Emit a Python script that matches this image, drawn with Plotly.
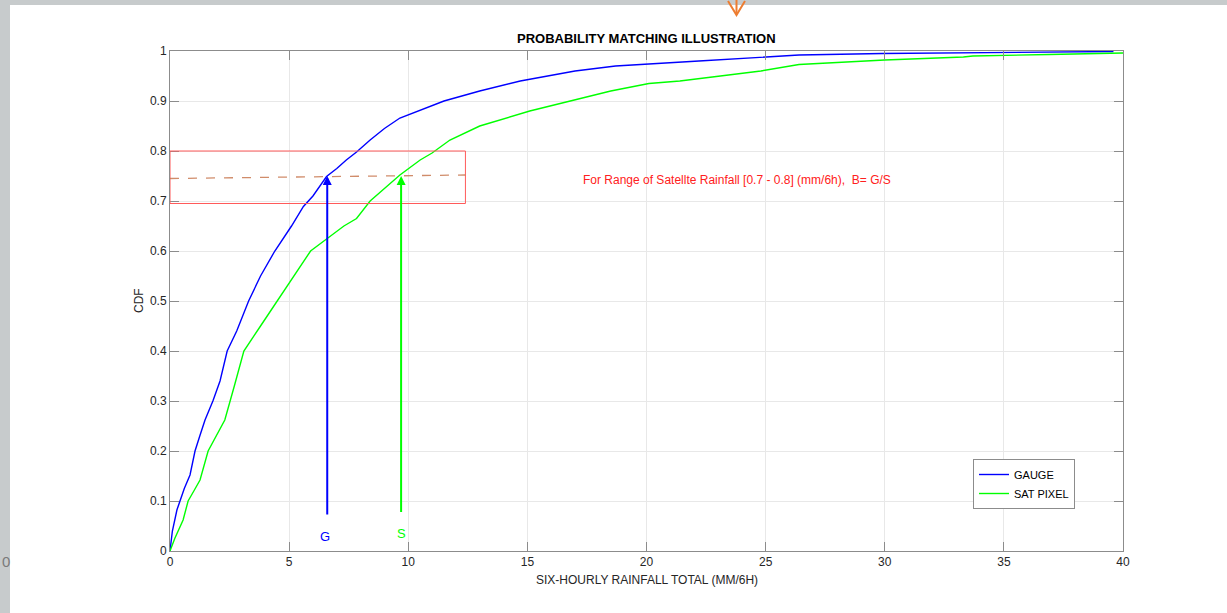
import plotly.graph_objects as go

# ---- data ----
gauge_x = [0, 0.1, 0.29, 0.42, 0.6, 0.84, 1.05, 1.25, 1.47, 1.8, 2.1, 2.4, 2.8, 3.3, 3.8, 4.4, 5.1, 5.6,
           6.0, 6.57, 7.0, 7.4, 7.83, 8.4, 9.0, 9.65, 10.5, 11.5, 13.0, 14.7, 17.0, 18.7, 22.2, 26.4,
           29.9, 34.8, 39.6]
gauge_y = [0, 0.04, 0.082, 0.1, 0.125, 0.152, 0.2, 0.23, 0.262, 0.3, 0.34, 0.4, 0.44, 0.5, 0.55, 0.6, 0.65, 0.689,
           0.71, 0.749, 0.765, 0.782, 0.798, 0.822, 0.845, 0.866, 0.882, 0.9, 0.92, 0.94, 0.96, 0.97, 0.98, 0.992,
           0.995, 0.997, 0.999]

sat_x = [0, 0.2, 0.55, 0.76, 1.0, 1.26, 1.6, 2.0, 2.3, 2.7, 3.1, 3.8, 4.5, 5.2, 5.9, 6.6, 7.3, 7.83, 8.4, 9.0,
         9.65, 10.5, 11.0, 11.75, 13.0, 15.1, 16.8, 18.5, 20.1, 21.4, 23.1, 24.8, 26.4, 28.0, 30.0, 33.3,
         33.7, 36.9, 40.0]
sat_y = [0, 0.025, 0.062, 0.1, 0.12, 0.142, 0.2, 0.235, 0.262, 0.33, 0.4, 0.45, 0.5, 0.55, 0.6, 0.625, 0.65,
         0.665, 0.7, 0.725, 0.752, 0.782, 0.796, 0.822, 0.85, 0.88, 0.9, 0.92, 0.935, 0.94, 0.95, 0.96, 0.973,
         0.977, 0.982, 0.988, 0.99, 0.993, 0.996]

x_ticks = [0, 5, 10, 15, 20, 25, 30, 35, 40]
y_ticks = [0, 0.1, 0.2, 0.3, 0.4, 0.5, 0.6, 0.7, 0.8, 0.9, 1]
y_tick_labels = ["0", "0.1", "0.2", "0.3", "0.4", "0.5", "0.6", "0.7", "0.8", "0.9", "1"]

g_value, s_value = 6.6, 9.7          # matched quantiles
cdf_level = 0.75
range_box = dict(x0=0, x1=12.4, y0=0.695, y1=0.8)
dash_y = (0.745, 0.752)
arrow_base = (0.07, 0.075)

W, H = 1227, 613
L, R, T, B = 170, 104, 51, 62
PW, PH = W - L - R, H - T - B
FONT = "Liberation Sans, Arial, sans-serif"


def px(xp):
    return (xp - L) / PW


def py(yp):
    return (H - B - yp) / PH


fig = go.Figure()
fig.add_trace(go.Scatter(x=gauge_x, y=gauge_y, mode="lines", name="GAUGE",
                         line=dict(color="#0000ff", width=1.4)))
fig.add_trace(go.Scatter(x=sat_x, y=sat_y, mode="lines", name="SAT PIXEL",
                         line=dict(color="#00ff00", width=1.4)))

shapes = []
# background slide edges
shapes.append(dict(type="rect", xref="paper", yref="paper", x0=px(0), x1=px(10), y0=py(H), y1=py(0),
                   fillcolor="#c7cbcc", line=dict(width=0), layer="below"))
shapes.append(dict(type="rect", xref="paper", yref="paper", x0=px(0), x1=px(W), y0=py(5), y1=py(0),
                   fillcolor="#c7cbcc", line=dict(width=0), layer="below"))
# orange arrow at top
shapes.append(dict(type="path", xref="paper", yref="paper",
                   path=f"M {px(728)},{py(1)} L {px(736.5)},{py(15)} L {px(745)},{py(1)}",
                   line=dict(color="#ed7d31", width=2)))
shapes.append(dict(type="line", xref="paper", yref="paper", x0=px(736.5), x1=px(736.5), y0=py(0), y1=py(13),
                   line=dict(color="#ed7d31", width=2)))
# red range box
shapes.append(dict(type="rect", xref="x", yref="y", **range_box,
                   line=dict(color="#ff5a5a", width=1)))
# dashed level line
shapes.append(dict(type="line", xref="x", yref="y", x0=range_box["x0"], x1=range_box["x1"],
                   y0=dash_y[0], y1=dash_y[1], line=dict(color="rgba(200,120,80,0.85)", width=1.3, dash="dash")))
fig.update_layout(shapes=shapes)

ann = []
# arrows
ann.append(dict(x=g_value, y=cdf_level, ax=g_value, ay=arrow_base[0], xref="x", yref="y", axref="x", ayref="y",
                text="", showarrow=True, arrowhead=2, arrowsize=0.9, arrowwidth=2, arrowcolor="#0000ff"))
ann.append(dict(x=s_value, y=cdf_level, ax=s_value, ay=arrow_base[1], xref="x", yref="y", axref="x", ayref="y",
                text="", showarrow=True, arrowhead=2, arrowsize=0.9, arrowwidth=2, arrowcolor="#00ff00"))
ann.append(dict(x=6.5, y=0.03, xref="x", yref="y", text="G", showarrow=False, xanchor="center", yanchor="middle",
                font=dict(color="#0000ff", size=13, family=FONT)))
ann.append(dict(x=9.7, y=0.036, xref="x", yref="y", text="S", showarrow=False, xanchor="center", yanchor="middle",
                font=dict(color="#00ff00", size=13, family=FONT)))
ann.append(dict(x=23.8, y=0.742, xref="x", yref="y", showarrow=False, xanchor="center", yanchor="middle",
                text="For Range of Satellte Rainfall [0.7 - 0.8] (mm/6h),  B= G/S",
                font=dict(color="#ff2020", size=12, family=FONT)))
# title & axis labels
ann.append(dict(x=0.5, y=py(39), xref="paper", yref="paper", showarrow=False, xanchor="center", yanchor="middle",
                text="<b>PROBABILITY MATCHING ILLUSTRATION</b>",
                font=dict(color="#000000", size=13, family=FONT)))
ann.append(dict(x=0.5, y=py(580), xref="paper", yref="paper", showarrow=False, xanchor="center", yanchor="middle",
                text="SIX-HOURLY RAINFALL TOTAL (MM/6H)",
                font=dict(color="#262626", size=12, family=FONT)))
ann.append(dict(x=px(139), y=py(301), xref="paper", yref="paper", showarrow=False, textangle=-90,
                xanchor="center", yanchor="middle",
                text="CDF", font=dict(color="#262626", size=12, family=FONT)))
# partial slide text at left edge
ann.append(dict(x=px(0), y=py(561), xref="paper", yref="paper", showarrow=False, xanchor="left", yanchor="middle",
                text="0", font=dict(color="#7a7a7a", size=15, family=FONT)))
fig.update_layout(annotations=ann)

axis_common = dict(showline=True, linecolor="#8c8c8c", linewidth=1, mirror="allticks",
                   ticks="inside", ticklen=9, tickcolor="#8c8c8c", tickwidth=1,
                   showgrid=True, gridcolor="#e8e8e8", gridwidth=1, zeroline=False,
                   tickfont=dict(color="#262626", size=12, family=FONT))

fig.update_xaxes(range=[0, 40], tickvals=x_ticks, **axis_common)
fig.update_yaxes(range=[0, 1], tickvals=y_ticks, ticktext=y_tick_labels, **axis_common)

fig.update_layout(
    width=W, height=H,
    margin=dict(l=L, r=R, t=T, b=B, autoexpand=False),
    paper_bgcolor="#ffffff", plot_bgcolor="#ffffff",
    showlegend=True,
    legend=dict(x=px(973), y=py(459), xanchor="left", yanchor="top",
                bgcolor="#ffffff", bordercolor="#8c8c8c", borderwidth=1,
                font=dict(color="#000000", size=11, family=FONT),
                itemwidth=30, tracegroupgap=0),
)

fig.write_html("out.html", config={"displayModeBar": False},
               post_script="document.body.style.margin='0';document.body.style.overflow='hidden';")
